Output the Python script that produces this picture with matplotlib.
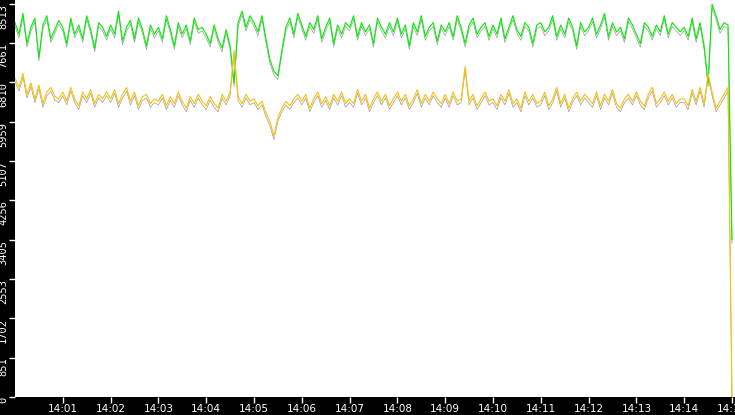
import matplotlib
matplotlib.use("Agg")
import matplotlib.pyplot as plt
import matplotlib.transforms as mtrans
import numpy as np

# seconds after 14:00:00, one sample every 5 s
green = [
 8100,7850,8300,7650,8000,8200,7350,8050,8250,7750,7950,8150,
 8000,7650,8200,7850,8050,7750,8250,7950,7550,8100,8000,7800,
 8050,7850,8350,7700,8000,8150,7750,8200,7950,7600,8050,7850,
 8000,7750,8250,7950,7600,8100,7850,8050,7700,8200,7950,8000,
 7850,7650,8050,7750,7550,7950,7600,6800,8100,8350,8000,8250,
 8100,7900,8250,7750,7300,7050,6950,7500,8000,8200,7850,8300,
 8050,7800,8100,7950,8250,7750,8000,8200,7650,8050,7850,8100,
 8000,8250,7800,8100,7900,8050,7650,8200,8000,7850,8100,7900,
 8200,7850,8050,7600,8100,7900,8250,7800,8000,8100,7700,8050,
 7900,8100,7800,8250,8000,7650,8050,8200,7850,8000,8100,7800,
 8050,7850,8200,7750,8000,8250,7950,7800,8100,8000,7650,8050,
 8100,7900,8000,8250,7800,8050,7850,8200,8000,7600,8100,7900,
 8000,8200,7850,8050,8300,7800,8100,7900,8000,7750,8200,8050,
 7850,7650,8100,8000,7800,8050,7900,8250,7850,8100,8000,7900,
 8000,7800,8200,7750,8100,7600,6800,8500,8250,7950,8100,8050,
 3400]
yellow = [
 6900,6700,7000,6550,6800,6450,6750,6350,6600,6700,6500,6450,
 6600,6400,6700,6450,6300,6600,6450,6650,6350,6550,6450,6600,
 6450,6650,6350,6550,6700,6400,6600,6300,6500,6550,6350,6450,
 6400,6550,6300,6500,6350,6600,6400,6250,6500,6350,6550,6400,
 6300,6500,6350,6250,6550,6400,6600,7500,6500,6350,6550,6400,
 6450,6300,6400,6150,5950,5650,6050,6250,6400,6300,6450,6550,
 6400,6550,6250,6450,6600,6350,6500,6300,6550,6400,6600,6350,
 6450,6350,6650,6400,6550,6250,6450,6600,6400,6550,6300,6450,
 6600,6400,6550,6300,6450,6650,6350,6550,6400,6600,6450,6350,
 6550,6350,6600,6400,6450,7150,6400,6550,6300,6450,6600,6400,
 6450,6300,6550,6400,6650,6350,6450,6250,6600,6400,6550,6350,
 6400,6600,6300,6450,6700,6350,6550,6250,6450,6600,6400,6550,
 6450,6350,6600,6300,6550,6400,6650,6350,6250,6450,6550,6400,
 6600,6400,6300,6550,6700,6350,6450,6600,6400,6550,6350,6450,
 6450,6300,6650,6400,6700,6350,7000,6600,6250,6400,6550,6700,
 0]
t = np.arange(len(green)) * 5 / 60.0  # minutes after 14:00
yticks = [0, 851, 1702, 2553, 3405, 4256, 5107, 5959, 6810, 7661, 8513]
xticks = list(range(1, 16))
xlabels = ["14:%02d" % m for m in xticks]

fig = plt.figure(figsize=(7.35, 4.15), dpi=100, facecolor="black")
ax = fig.add_axes([15/735, 18/415, 720/735, 397/415])
ax.set_facecolor("white")
g = np.array(green); yl = np.array(yellow)
ax.plot(t, g - 80, color="#9a9a9a", lw=0.5)
ax.plot(t, yl - 80, color="#9a9a9a", lw=0.5)
ax.plot(t, g, color="#00ee00", lw=0.8)
ax.plot(t, yl, color="#ffc000", lw=0.8)
ax.set_xlim(0, 720/47.8)
ax.set_ylim(0, 8590)
ax.set_yticks(yticks)
labs = ax.set_yticklabels([str(v) for v in yticks], rotation=90, va="top",
                   color="white", fontsize=7.5, family="DejaVu Sans Mono")
off = mtrans.ScaledTranslation(0, 5/100, fig.dpi_scale_trans)
for l in labs:
    l.set_transform(l.get_transform() + off)
ax.set_xticks(xticks)
ax.set_xticklabels(xlabels, color="white", fontsize=7.5, family="DejaVu Sans")
ax.tick_params(axis="y", colors="white", length=4, pad=1, width=1)
ax.tick_params(axis="x", colors="white", length=4, pad=1, width=1)
for s in ax.spines.values():
    s.set_visible(False)
fig.savefig("out.png", facecolor="black")
